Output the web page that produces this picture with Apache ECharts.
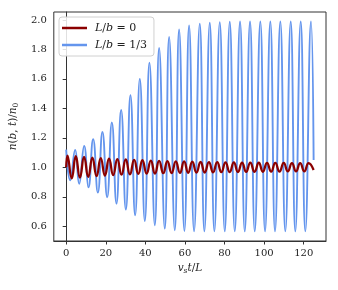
<!DOCTYPE html>
<html>
<head>
<meta charset="utf-8">
<script src="https://cdn.jsdelivr.net/npm/echarts@6/dist/echarts.min.js"></script>
<style>html,body{margin:0;padding:0;background:#fff}#c{width:338px;height:290px}</style>
</head>
<body>
<div id="c"></div>
<script>
// L/b = 1/3 : extrema (x = v_s t / L)
const blueX = [0, 2.02, 4.54, 6.56, 9.09, 11.26, 13.63, 16.0, 18.32, 20.70, 23.07, 25.39, 27.76, 30.14, 32.46, 34.83, 37.20, 39.73, 42.05, 44.78, 46.95, 49.82, 52.0, 54.87, 57.04, 59.72, 62.09, 64.61, 67.49, 69.81, 72.54, 74.86, 77.59, 80.11, 82.64, 85.16, 87.83, 90.21, 92.88, 95.26, 98.08, 100.45, 103.13, 105.5, 108.18, 110.7, 113.43, 115.75, 118.48, 120.8, 123.67, 125];
const blueY = [1.12, 0.912, 1.118, 0.889, 1.145, 0.864, 1.19, 0.828, 1.24, 0.797, 1.305, 0.754, 1.39, 0.713, 1.49, 0.675, 1.60, 0.636, 1.71, 0.607, 1.81, 0.584, 1.885, 0.573, 1.935, 0.568, 1.963, 0.566, 1.975, 0.565, 1.981, 0.565, 1.985, 0.565, 1.988, 0.565, 1.99, 0.565, 1.99, 0.565, 1.99, 0.565, 1.99, 0.565, 1.99, 0.565, 1.99, 0.565, 1.99, 0.565, 1.99, 1.05];
// L/b = 0
const redX = [0, 0.66, 2.8, 4.86, 6.95, 9.05, 11.15, 13.24, 15.35, 17.47, 19.57, 21.66, 23.75, 25.85, 27.97, 30.09, 32.2, 34.33, 36.43, 38.52, 40.64, 42.76, 44.85, 46.95, 49.05, 51.14, 53.26, 55.38, 57.47, 59.57, 61.63, 63.70, 65.8, 67.9, 70.0, 72.1, 74.2, 76.3, 78.4, 80.5, 82.6, 84.7, 86.77, 88.85, 90.92, 93.0, 95.15, 97.3, 99.37, 101.45, 103.55, 105.65, 107.77, 109.9, 111.97, 114.05, 116.12, 118.2, 120.32, 122.45, 125];
const redY = [1.0, 1.08, 0.925, 1.075, 0.93, 1.07, 0.935, 1.066, 0.94, 1.062, 0.944, 1.058, 0.947, 1.056, 0.95, 1.053, 0.952, 1.05, 0.955, 1.048, 0.957, 1.046, 0.958, 1.044, 0.96, 1.042, 0.961, 1.04, 0.962, 1.04, 0.963, 1.038, 0.964, 1.036, 0.965, 1.035, 0.966, 1.035, 0.967, 1.034, 0.968, 1.033, 0.968, 1.032, 0.969, 1.032, 0.97, 1.031, 0.97, 1.03, 0.971, 1.03, 0.971, 1.03, 0.972, 1.029, 0.972, 1.028, 0.972, 1.028, 0.982];
const xTicks = [0, 20, 40, 60, 80, 100, 120];
const yTicks = [0.6, 0.8, 1.0, 1.2, 1.4, 1.6, 1.8, 2.0];
const names = ['L/b = 0', 'L/b = 1/3'];

const zip = (xs, ys) => xs.map((x, i) => [x, ys[i]]);
const FONT = 'DejaVu Serif';
const C = '#222';
const chart = echarts.init(document.getElementById('c'), null, {renderer: 'canvas'});
chart.setOption({
  animation: false,
  backgroundColor: '#fff',
  grid: {left: 53, right: 12, top: 12, bottom: 49, show: true, borderColor: '#333', borderWidth: 1, backgroundColor: 'transparent'},
  legend: {
    data: names, orient: 'vertical', left: 59, top: 17,
    backgroundColor: 'rgba(255,255,255,0.85)', borderColor: '#d0d0d0', borderWidth: 1, borderRadius: 3,
    padding: [5, 7, 5, 3], itemGap: 5, itemWidth: 25, itemHeight: 2.5, icon: 'rect',
    formatter: n => n === names[0] ? '{g|}{i|L}{n|/}{i|b}{n| = 0}' : '{g|}{i|L}{n|/}{i|b}{n| = 1/3}',
    textStyle: {rich: {
      g: {width: 3},
      i: {fontFamily: FONT, fontStyle: 'italic', fontSize: 11, color: C},
      n: {fontFamily: FONT, fontSize: 11, color: C}
    }}
  },
  xAxis: {
    type: 'value', min: -6.25, max: 131.25,
    name: '{i|v}{s|s}{i|t}{n|/}{i|L}', nameLocation: 'middle', nameGap: 21,
    nameTextStyle: {rich: {
      i: {fontFamily: FONT, fontStyle: 'italic', fontSize: 10.5, color: C},
      s: {fontFamily: FONT, fontStyle: 'italic', fontSize: 7.5, color: C, padding: [5, 0, 0, 0]},
      n: {fontFamily: FONT, fontSize: 10.5, color: C}
    }},
    axisLine: {show: true, lineStyle: {color: '#333', width: 1}},
    axisTick: {show: true, length: 3.5, inside: false, lineStyle: {color: '#333'}, customValues: xTicks},
    axisLabel: {fontFamily: FONT, fontSize: 10, color: C, margin: 7, customValues: xTicks, formatter: v => String(v)},
    splitLine: {show: false}
  },
  yAxis: {
    type: 'value', min: 0.5, max: 2.054,
    name: '{i|n}{n|(}{i|b}{n|, }{i|t}{n|)/}{i|n}{s|0}', nameLocation: 'middle', nameGap: 31, nameRotate: 90,
    nameTextStyle: {rich: {
      i: {fontFamily: FONT, fontStyle: 'italic', fontSize: 10.5, color: C},
      s: {fontFamily: FONT, fontSize: 7.5, color: C, padding: [5, 0, 0, 0]},
      n: {fontFamily: FONT, fontSize: 10.5, color: C}
    }},
    axisLine: {show: true, lineStyle: {color: '#333', width: 1}},
    axisTick: {show: true, length: 3.5, inside: false, lineStyle: {color: '#333'}, customValues: yTicks},
    axisLabel: {fontFamily: FONT, fontSize: 10, color: C, margin: 7, customValues: yTicks, formatter: v => v.toFixed(1)},
    splitLine: {show: false}
  },
  series: [
    {name: names[1], type: 'line', data: zip(blueX, blueY), showSymbol: false, smooth: 0.5,
     lineStyle: {color: '#6495ED', width: 1.9}, itemStyle: {color: '#6495ED'}, z: 2},
    {name: names[0], type: 'line', data: zip(redX, redY), showSymbol: false, smooth: 0.5,
     lineStyle: {color: '#8B0000', width: 2.3}, itemStyle: {color: '#8B0000'}, z: 3}
  ]
});
</script>
</body>
</html>
